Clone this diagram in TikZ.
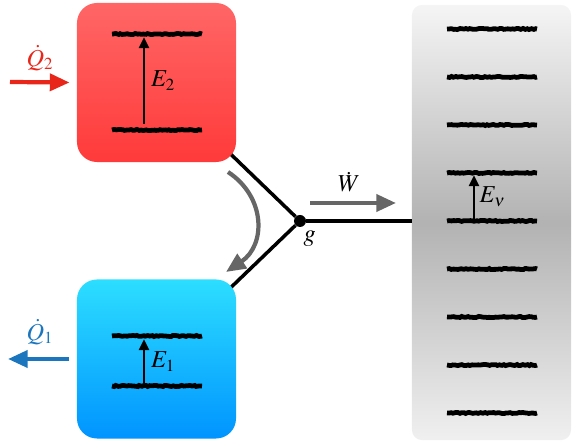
\documentclass[tikz,border=0pt]{standalone}
\usepackage{mathptmx}
\usepackage{xcolor}
\usetikzlibrary{arrows.meta,calc,backgrounds,decorations.pathmorphing}
\definecolor{hottop}{RGB}{255,102,102}
\definecolor{hotbottom}{RGB}{255,58,58}
\definecolor{coldtop}{RGB}{45,222,255}
\definecolor{coldbottom}{RGB}{0,148,255}
\definecolor{heatin}{RGB}{232,38,26}
\definecolor{heatout}{RGB}{28,118,190}
\definecolor{workgray}{RGB}{102,102,102}
\tikzset{
  box/.style = {rounded corners=0.5cm, minimum width=3.975cm,
    minimum height=3.975cm, inner sep=0pt},
  level/.style = {line width=3.4pt, decorate,
    decoration={random steps, segment length=1.5pt, amplitude=0.4pt}},
  gap/.style = {line width=2pt, -{Triangle[length=8pt,width=7pt]}},
  link/.style = {line width=2.5pt},
  flow/.style = {line width=3pt, -{Triangle[length=14pt,width=12pt]}}
}

\begin{document}
\begin{tikzpicture}[x=0.025cm, y=-0.025cm]
\useasboundingbox (0,0) rectangle (581,445);

% reservoirs and bath
\node[box, top color=hottop, bottom color=hotbottom] (hot) at (156.5,82.5) {};
\node[box, top color=coldtop, bottom color=coldbottom] (cold) at (156.5,359) {};
\node[rounded corners=0.25cm, minimum width=3.975cm, minimum height=10.875cm,
  inner sep=0pt, top color=gray!8, bottom color=gray!12, middle color=gray!60]
  (bath) at (491.5,222.5) {};

% junction
\node[circle, fill=black, minimum size=0.3cm, inner sep=0pt] (g) at (300,221) {};
\node[anchor=north west, inner sep=1pt] (glabel) at (302,229) {\LARGE $g$};

\begin{scope}[on background layer]
  \draw[link] (g) -- (hot.center);
  \draw[link] (g) -- (cold.center);
\end{scope}
\draw[link] (g) -- (g -| bath.west);

% levels
\foreach \y in {34,130}{
  \draw[level] (112,\y) -- (202,\y);
}
\foreach \y in {336,386}{
  \draw[level] (112,\y) -- (202,\y);
}
\foreach \y in {29,77,...,413}{
  \draw[level] (447,\y) -- (537,\y);
}

\draw[gap] (144,124) -- (144,37) node[midway, right, inner sep=4pt] {\LARGE $E_2$};
\draw[gap] (144,384) -- (144,339) node[midway, right, inner sep=4pt] {\LARGE $E_1$};
\draw[gap] (474,219) -- (474,175) node[midway, right, inner sep=3pt] {\LARGE $E_\nu$};

% heat and work
\coordinate (q2in) at (10,82);
\coordinate (q1out) at (8,359);
\draw[flow, heatin] (q2in) -- ([xshift=-0.18cm]hot.west);
\node[heatin] (q2label) at (40,58) {\LARGE $\dot{Q}_2$};
\draw[flow, heatout] ([xshift=-0.18cm]cold.west) -- (q1out);
\node[heatout] (q1label) at (40,332) {\LARGE $\dot{Q}_1$};

\coordinate (wstart) at (310,203);
\coordinate (wend) at (396,203);
\draw[flow, workgray] (wstart) -- (wend);
\node (wlabel) at (349,182) {\LARGE $\dot{W}$};

\coordinate (swingtop) at (228,172);
\coordinate (swingbot) at (226,272);
\draw[flow, workgray] (swingtop) .. controls (266,197) and (266,245) .. (swingbot);

\end{tikzpicture}
\end{document}
